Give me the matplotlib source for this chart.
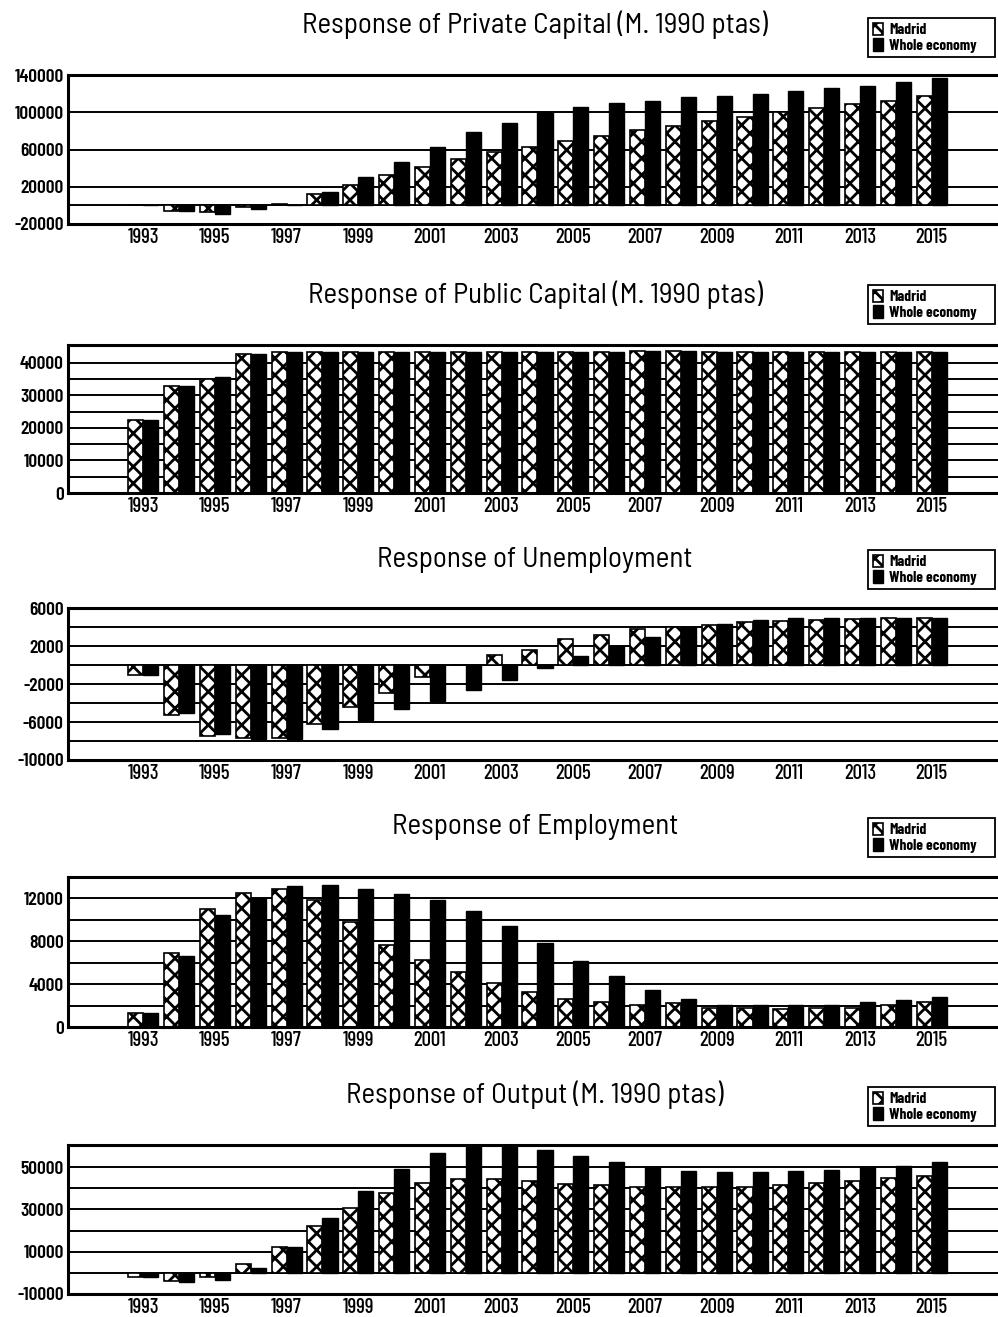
import matplotlib
matplotlib.use('Agg')
import matplotlib.pyplot as plt
import numpy as np

plt.rcParams['font.family'] = ['Barlow Condensed', 'DejaVu Sans']
plt.rcParams['font.stretch'] = 'condensed'
plt.rcParams['hatch.linewidth'] = 2.0

years = list(range(1993, 2016))
xtick_years = list(range(1993, 2016, 2))

# Response of Private Capital (M. 1990 ptas)
priv_madrid = [0, -6000, -7000, -2000, 2000, 12700, 22200, 32800, 41100, 49900, 57300, 62500,
               69600, 75000, 81400, 85700, 90300, 95300, 100000, 104200, 108900, 112500, 117500]
priv_whole = [0, -6000, -9000, -4000, 500, 14500, 30200, 46200, 63000, 78300, 88500, 100000,
              105300, 110000, 112500, 116000, 117100, 119600, 123200, 126000, 128200, 132400, 136400]

# Response of Public Capital (M. 1990 ptas)
pub_madrid = [22500, 33000, 35200, 42800, 43500, 43500, 43500, 43500, 43500, 43500, 43500, 43500,
              43500, 43500, 43700, 43700, 43500, 43500, 43500, 43500, 43500, 43500, 43500]
pub_whole = [22500, 33000, 35800, 42700, 43500, 43500, 43400, 43500, 43500, 43500, 43500, 43500,
             43500, 43500, 43700, 43700, 43500, 43500, 43500, 43500, 43500, 43400, 43500]

# Response of Unemployment
unem_madrid = [-1000, -5300, -7500, -7700, -7700, -6200, -4400, -2900, -1300, 0, 1100, 1600,
               2700, 3200, 3750, 4000, 4200, 4500, 4650, 4750, 4800, 4900, 4900]
unem_whole = [-1000, -5100, -7300, -7800, -7800, -6700, -5800, -4600, -3750, -2600, -1600, -350,
              900, 2000, 3000, 4000, 4300, 4700, 4900, 5000, 4900, 4900, 4950]

# Response of Employment
emp_madrid = [1300, 6900, 11000, 12500, 12900, 11900, 9800, 7700, 6300, 5100, 4100, 3300,
              2650, 2300, 2100, 2200, 1800, 1800, 1700, 1800, 1800, 2100, 2300]
emp_whole = [1300, 6600, 10500, 12000, 13200, 13300, 12900, 12400, 11900, 10800, 9400, 7800,
             6200, 4750, 3500, 2600, 2100, 2100, 2100, 2100, 2300, 2500, 2800]

# Response of Output (M. 1990 ptas)
out_madrid = [-2000, -3700, -2000, 4300, 12200, 22100, 30500, 37700, 42500, 44400, 44500, 43300,
              42200, 41400, 40600, 40600, 40600, 40600, 41400, 42500, 43300, 44800, 46000]
out_whole = [-2000, -4400, -3200, 2200, 12200, 25800, 38500, 49100, 56800, 62000, 62000, 58000,
             55400, 52600, 50000, 48400, 47900, 47600, 48400, 48700, 50000, 50700, 52300]

panels = [
    ('Response of Private Capital (M. 1990 ptas)', priv_madrid, priv_whole,
     (-20000, 140000), np.arange(-20000, 140001, 40000), [0, 20000, 60000, 100000]),
    ('Response of Public Capital (M. 1990 ptas)', pub_madrid, pub_whole,
     (0, 45500), np.arange(0, 40001, 10000), np.arange(5000, 45000, 5000)),
    ('Response of Unemployment', unem_madrid, unem_whole,
     (-10000, 6000), np.arange(-10000, 6001, 4000), np.arange(-8000, 6000, 2000)),
    ('Response of Employment', emp_madrid, emp_whole,
     (0, 14000), np.arange(0, 12001, 4000), np.arange(2000, 14000, 2000)),
    ('Response of Output (M. 1990 ptas)', out_madrid, out_whole,
     (-10000, 60500), np.arange(-10000, 50001, 20000), np.arange(0, 60000, 10000)),
]

W, H = 998, 1317
# axes top / bottom in pixels
rows = [(75, 224), (345, 493), (608, 760), (877, 1027), (1145, 1294)]
title_y = [25, 295, 560, 827, 1095]
legend_top = [18, 285, 550, 818, 1087]

fig = plt.figure(figsize=(W / 100, H / 100), dpi=100)
x = np.array(years, dtype=float)
bw = 0.42

for i, (title, mad, whole, ylim, yticks, grid) in enumerate(panels):
    top, bot = rows[i]
    ax = fig.add_axes([68 / W, 1 - bot / H, 1 - 68 / W, (bot - top) / H])
    for g in grid:
        ax.axhline(g, color='black', lw=1.4, zorder=1)
    b1 = ax.bar(x - bw / 2, mad, bw, color='white', edgecolor='black', hatch='xx',
                lw=1.2, zorder=2, label='Madrid')
    b2 = ax.bar(x + bw / 2, whole, bw, color='black', edgecolor='black',
                lw=1.0, zorder=2, label='Whole economy')
    ax.set_xlim(1990.9, 2016.85)
    ax.set_ylim(*ylim)
    ax.set_yticks(yticks)
    ax.set_yticklabels(['%d' % t for t in yticks], fontsize=14, fontweight='semibold')
    ax.set_xticks(xtick_years)
    ax.set_xticklabels([str(y) for y in xtick_years], fontsize=15, fontweight='medium')
    ax.tick_params(axis='both', length=0, pad=3)
    ax.spines['right'].set_visible(False)
    for s in ['top', 'bottom', 'left']:
        ax.spines[s].set_linewidth(2.2)
    fig.text(535 / W, 1 - title_y[i] / H, title, ha='center', va='center', fontsize=21,
             family=['Barlow Semi Condensed', 'DejaVu Sans'], fontweight='normal')
    leg = ax.legend(handles=[b1, b2], loc='upper left', mode='expand',
                    bbox_to_anchor=(868 / W, 1 - (legend_top[i] + 32) / H, 127 / W, 32 / H),
                    bbox_transform=fig.transFigure, fancybox=False, framealpha=1,
                    edgecolor='black', handlelength=0.7, handleheight=0.9,
                    handletextpad=0.4, labelspacing=0.05, borderpad=0.3,
                    borderaxespad=0, prop={'size': 11, 'weight': 'bold'})
    leg.get_frame().set_linewidth(1.3)

fig.savefig('out.png', dpi=100)
